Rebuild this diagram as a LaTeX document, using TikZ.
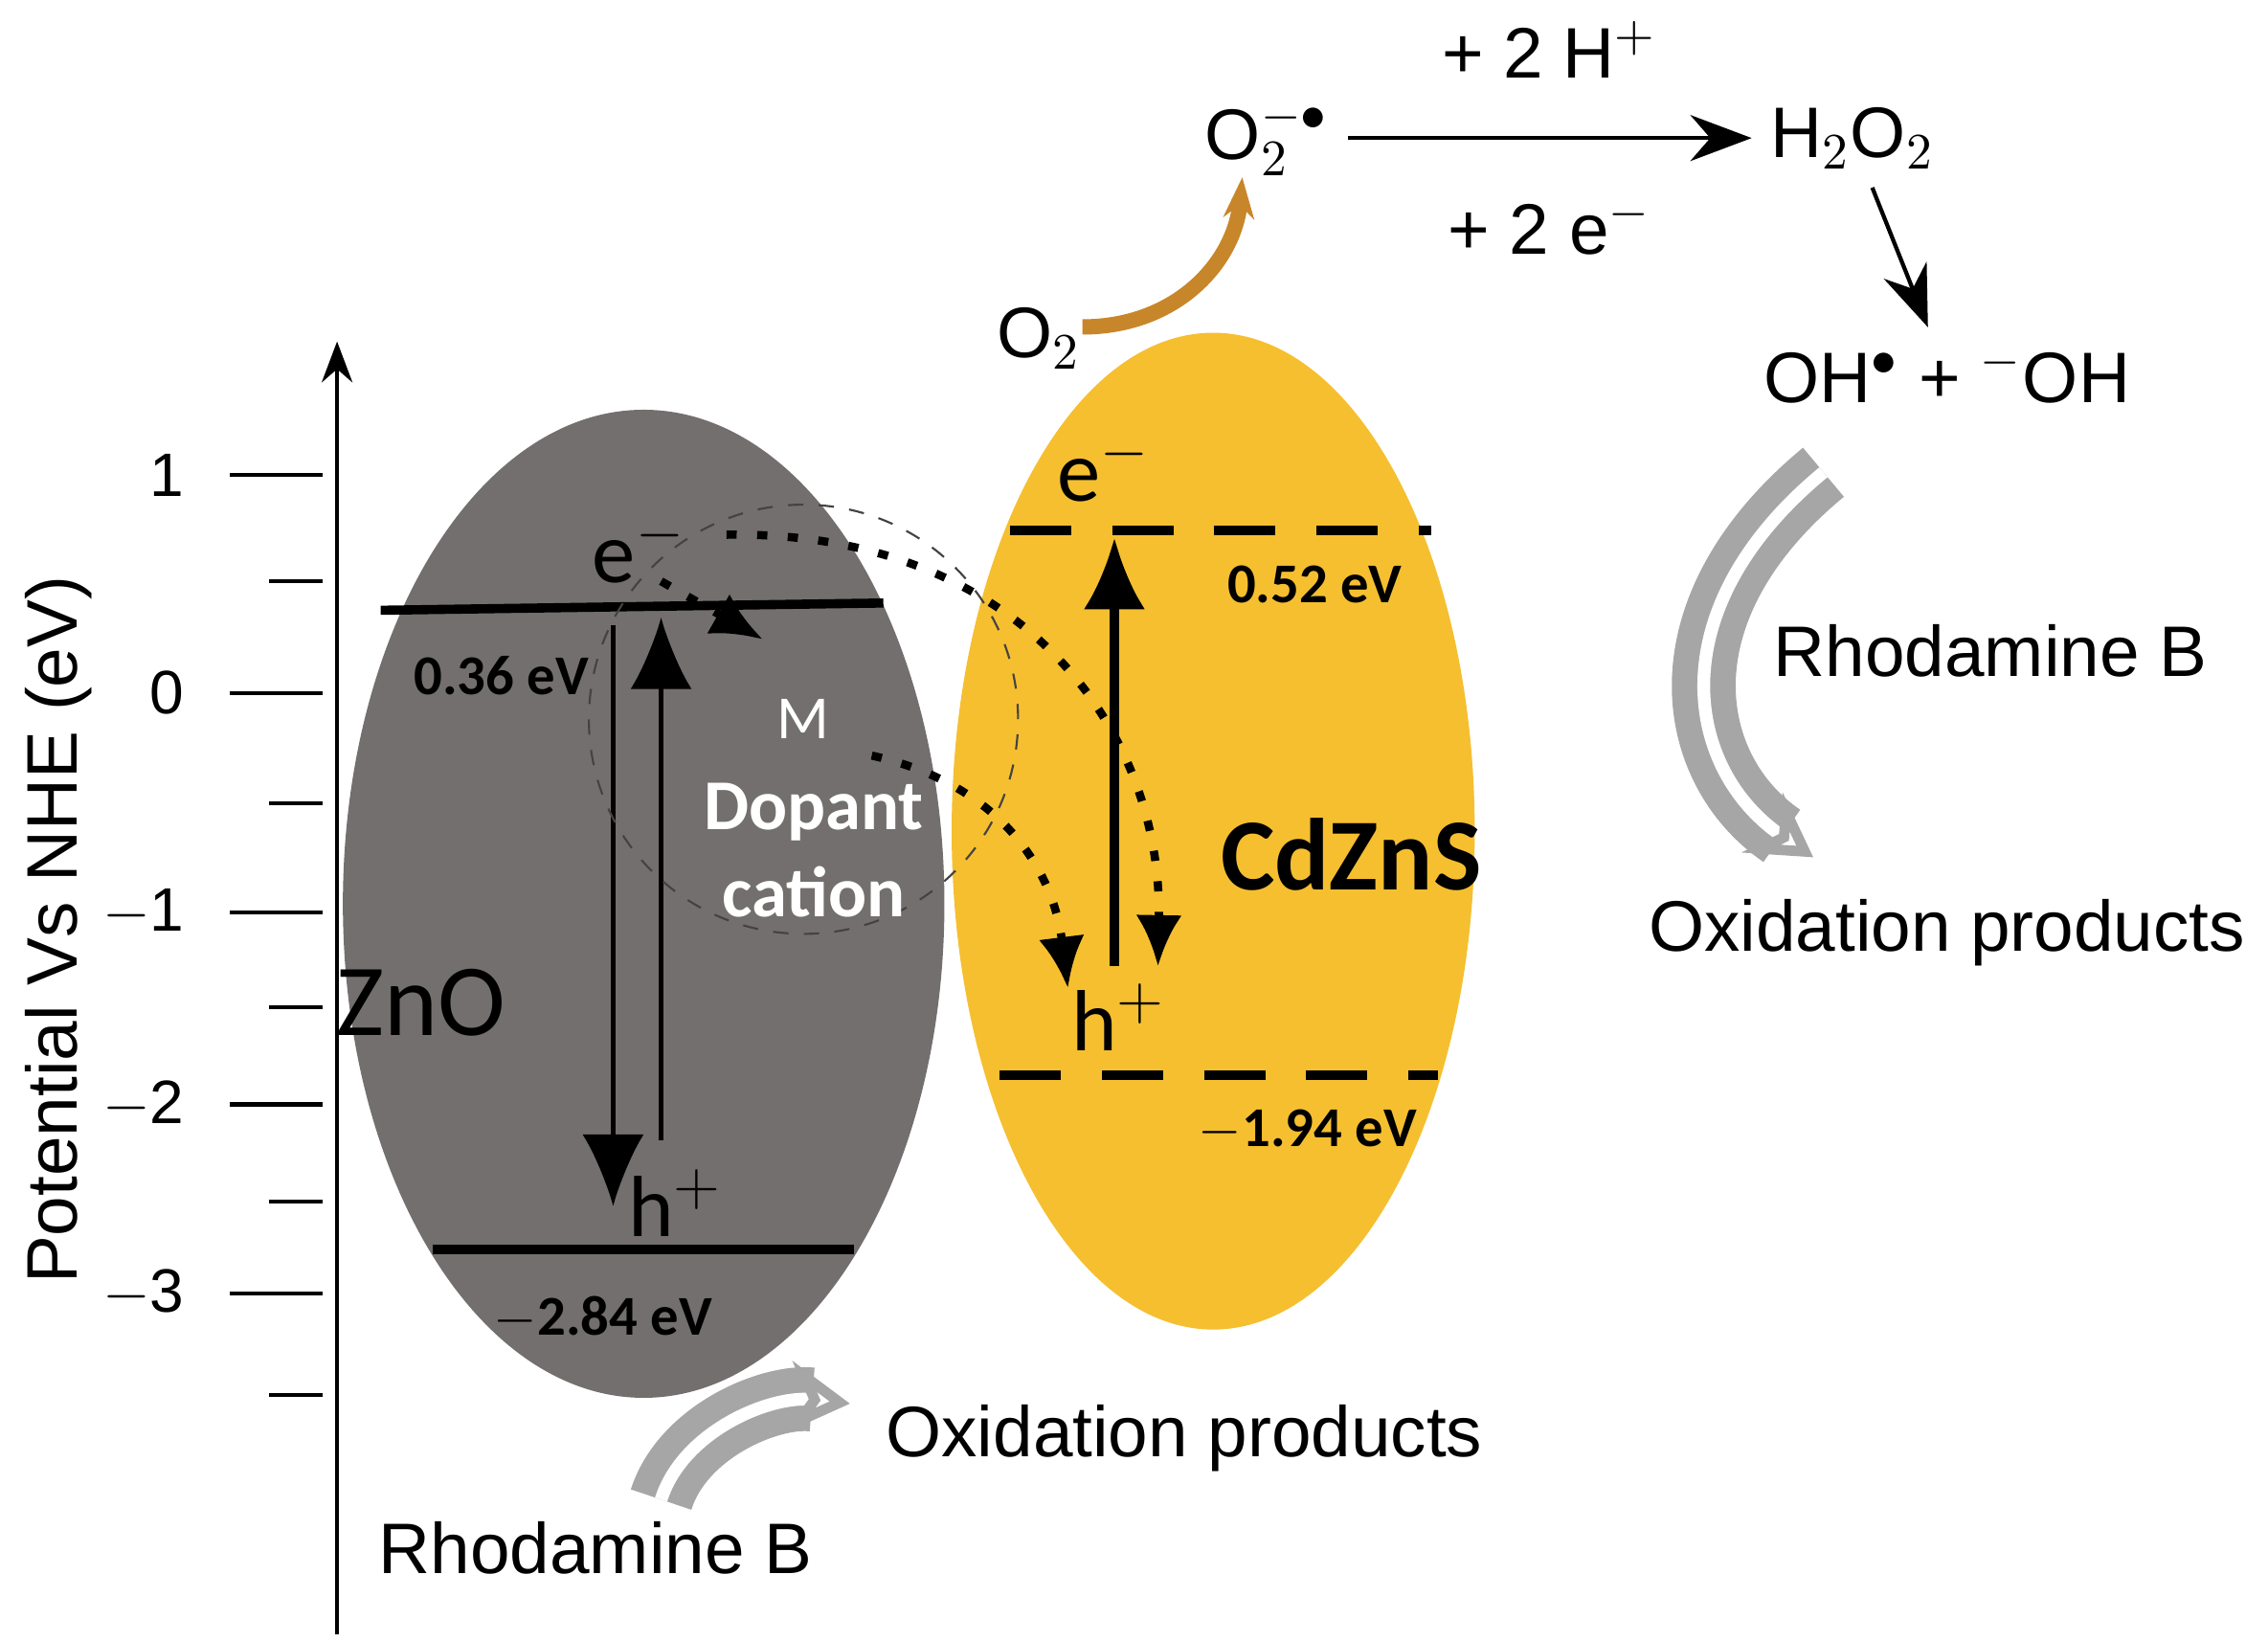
\documentclass[tikz,border=0pt]{standalone}
\usepackage{fontspec}
\setmainfont{Liberation Sans}
\newfontfamily\bandfont{Carlito}
\usetikzlibrary{arrows.meta}
\definecolor{zno}{HTML}{736F6E}
\definecolor{czs}{HTML}{F5BF30}
\definecolor{oarc}{HTML}{C8862A}
\begin{document}
\begin{tikzpicture}[x=0.01cm, y=-0.01cm, thick,
  lbl/.style = {font=\fontsize{14}{16}\selectfont},
  tick/.style = {font=\fontsize{12}{14}\selectfont},
  band/.style = {font=\bandfont\bfseries\fontsize{11}{13}\selectfont},
  carrier/.style = {font=\bandfont\fontsize{17}{19}\selectfont},
  dots/.style = {line width=1.6pt, dash pattern=on 2pt off 4pt, -{Latex[length=10pt,width=9pt]}},
  hollow/.style = {draw=gray!70, line width=5pt, double=white, double distance=2.5pt, -{Stealth[open,length=12pt,width=14pt,fill=white]}}]
\useasboundingbox (0,0) rectangle (1561,1130);
% oxides
\fill[zno] (443,622) ellipse [x radius=207, y radius=340];
\fill[czs] (835,572) ellipse [x radius=180, y radius=343];
% axis
\coordinate (a0) at (232,1125);
\coordinate (a1) at (232,235);
\draw[-{Stealth[length=8pt]}] (a0) -- (a1);
\foreach \y/\t in {327/1, 477/0, 628/$-$1, 760/$-$2, 890/$-$3} {
  \draw (158,\y) -- (222,\y);
  \node[tick, anchor=east] at (140,\y) {\t};
}
\foreach \y in {400, 553, 693, 827, 960} \draw (185,\y) -- (222,\y);
\node[lbl, rotate=90] at (40,640) {Potential Vs NHE (eV)};
% ZnO
\draw[line width=1.8pt] (262,420) -- (608,415);
\draw[line width=1.8pt] (298,860) -- (588,860);
\node[band] at (345,465) {0.36 eV};
\node[band] at (415,907) {$-$2.84 eV};
\node[carrier, font=\bandfont\fontsize{20}{22}\selectfont] at (290,690) {ZnO};
\node[carrier] (e1) at (440,378) {e$^{-}$};
\node[carrier] (h1) at (465,828) {h$^{+}$};
\draw[-{Latex[length=14pt,width=12pt]}] (422,430) -- (422,830);
\draw[-{Latex[length=14pt,width=12pt]}] (455,785) -- (455,425);
\node[draw=zno!60!black, dashed, thin, circle, minimum size=84, text=white, font=\bandfont\fontsize{12}{14}\selectfont] (m) at (553,495) {M};
\node[text=white, font=\bandfont\bfseries\fontsize{14}{17}\selectfont, align=center] at (560,585) {Dopant\\cation};
\draw[dots] (455,400) -- (525,440);
% transfer
\draw[dots] (500,368) .. controls (700,365) and (800,500) .. (797,665);
\draw[dots] (600,520) .. controls (690,540) and (725,600) .. (735,680);
% CdZnS
\draw[line width=1.8pt, dash pattern=on 12pt off 8pt] (695,365) -- (985,365);
\draw[line width=1.8pt, dash pattern=on 12pt off 8pt] (688,740) -- (990,740);
\node[band] at (905,402) {0.52 eV};
\node[band] at (900,778) {$-$1.94 eV};
\node[carrier] (e2) at (760,322) {e$^{-}$};
\node[carrier] (h2) at (770,700) {h$^{+}$};
\draw[line width=1.8pt, -{Latex[length=14pt,width=12pt]}] (767,665) -- (767,370);
\node[font=\bandfont\bfseries\fontsize{20}{22}\selectfont] at (930,588) {CdZnS};
% reactions
\node[lbl] (o2) at (715,233) {O$_2$};
\node[lbl] (sup) at (872,95) {O$_2^{-\bullet}$};
\node[lbl] (h2o2) at (1275,95) {H$_2$O$_2$};
\node[lbl] (oh) at (1340,258) {OH$^{\bullet}$ + $^{-}$OH};
\draw[oarc, line width=3pt, -{Stealth[length=8pt]}] (745,225) .. controls (810,225) and (850,180) .. (855,122);
\draw[-{Stealth[length=12pt]}] (sup.east) -- node[lbl, above=8pt] {+ 2 H$^{+}$} node[lbl, below=8pt] {+ 2 e$^{-}$} (h2o2.west);
\draw[-{Stealth[length=12pt]}] (h2o2) -- (oh);
\node[lbl] at (1370,448) {Rhodamine B};
\node[lbl] at (1340,642) {Oxidation products};
\draw[hollow] (1255,325) .. controls (1140,420) and (1160,530) .. (1248,590);
\node[lbl] at (815,990) {Oxidation products};
\node[lbl] at (410,1065) {Rhodamine B};
\draw[hollow] (455,1032) .. controls (470,985) and (530,960) .. (585,966);
\end{tikzpicture}
\end{document}
